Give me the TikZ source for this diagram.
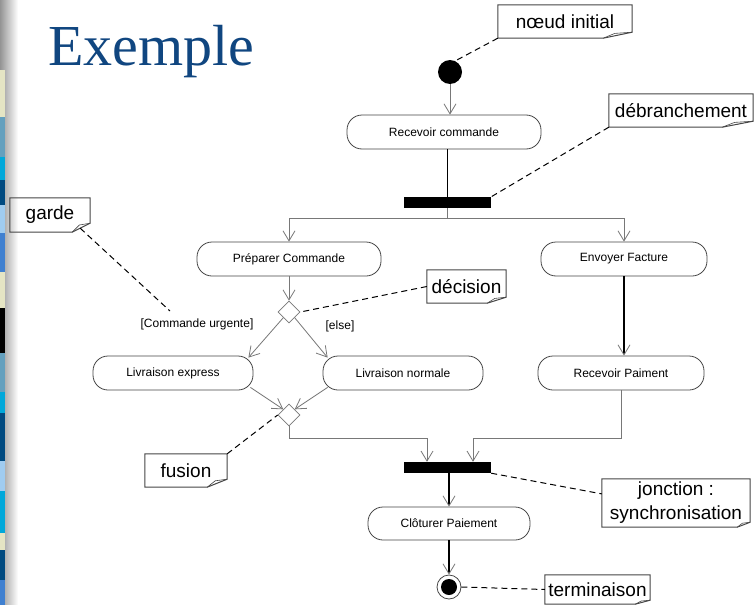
\documentclass[tikz,border=0pt]{standalone}
\usepackage{fontspec}
\setmainfont{Liberation Sans}
\newfontfamily\titlefont{Liberation Serif}
\usetikzlibrary{arrows.meta,shapes.geometric,calc}

\definecolor{titleblue}{RGB}{16,70,128}
\definecolor{linegray}{RGB}{120,120,120}
\definecolor{boxgray}{RGB}{70,70,70}
\definecolor{sbeige}{RGB}{229,229,196}
\definecolor{steel}{RGB}{100,160,190}
\definecolor{scyan}{RGB}{0,168,218}
\definecolor{sdark}{RGB}{0,74,128}
\definecolor{slight}{RGB}{160,204,240}
\definecolor{smid}{RGB}{64,128,208}

% UML note: name, cx, cy, width, height, fold width, fold height, text
\newcommand\umlnote[8]{%
  \node[notetext, minimum width=#4pt, minimum height=#5pt] (#1) at (#2,#3) {#8};
  \draw[noteline] (#1.north west) -- (#1.north east) -- ([yshift=#7pt]#1.south east)
    -- ([xshift=-#6pt]#1.south east) -- (#1.south west) -- cycle;
  \draw[noteline, line width=0.6pt] ([xshift=-#6pt]#1.south east)
    -- ([xshift=-0.6*#6pt, yshift=0.8*#7pt]#1.south east) -- ([yshift=#7pt]#1.south east);
}

\tikzset{
  activity/.style={rectangle, rounded corners=15pt, draw=boxgray, line width=0.8pt,
    minimum height=34pt, inner sep=0pt, fill=white, font=\fontsize{12}{14}\selectfont},
  syncbar/.style={rectangle, fill=black, minimum height=11pt, inner sep=0pt},
  choice/.style={diamond, draw=linegray, line width=0.7pt, fill=white, aspect=1,
    minimum width=22pt, minimum height=22pt, inner sep=0pt},
  guard/.style={font=\fontsize{12}{14}\selectfont, inner sep=0pt},
  notetext/.style={rectangle, inner sep=0pt, align=center, font=\fontsize{19}{24}\selectfont},
  noteline/.style={draw=boxgray, line width=1pt, line join=miter},
  notelink/.style={draw=black, line width=1pt, dash pattern=on 6pt off 4pt},
  tip/.style={-{Straight Barb[length=10pt,width=12pt,line width=0.8pt,color=linegray]}},
  flow/.style={draw=linegray, line width=0.8pt, tip},
  thickflow/.style={draw=black, line width=2.2pt, tip},
  plainflow/.style={draw=black, line width=0.8pt},
}

\begin{document}
\begin{tikzpicture}[x=1pt, y=-1pt]
\useasboundingbox (0,0) rectangle (755,605);
\fill[white] (0,0) rectangle (755,605);

% slide edge: shadow and coloured stripe
\shade[left color=black!42, right color=white] (0,0) rectangle (18,605);
\foreach \ya/\yb/\c in {70/117/sbeige, 117/157/steel, 157/180/scyan, 180/205/sdark,
    205/233/slight, 233/272/smid, 272/308/sbeige, 308/353/black, 353/392/steel,
    392/413/scyan, 413/461/sdark, 461/491/slight, 491/533/scyan, 533/550/sbeige,
    550/580/sdark, 580/605/smid}
  \fill[\c] (0,\ya) rectangle (5,\yb);

% title
\node[anchor=base west, inner sep=0pt, text=titleblue,
  font=\titlefont\fontsize{58}{60}\selectfont] (title) at (48,65) {Exemple};

% activity nodes
\node[circle, fill=black, minimum size=24pt, inner sep=0pt] (init) at (450,72) {};
\node[activity, minimum width=194pt] (rc) at (444,132) {Recevoir commande};
\node[syncbar, minimum width=87pt] (fork) at (447.5,202.5) {};
\node[activity, minimum width=184pt] (pc) at (289,259) {Préparer Commande};
\node[activity, minimum width=166pt] (ef) at (624,259) {Envoyer Facture};
\node[choice] (dec) at (289,312) {};
\node[activity, minimum width=160pt] (le) at (173,373) {Livraison express};
\node[activity, minimum width=160pt] (ln) at (403,373) {Livraison normale};
\node[activity, minimum width=166pt] (rp) at (621,373) {Recevoir Paiment};
\node[choice] (merge) at (289,415) {};
\node[syncbar, minimum width=87pt] (join) at (447.5,467.5) {};
\node[activity, minimum width=162pt, minimum height=33pt] (cp) at (449,523.5) {Clôturer Paiement};
\node[circle, draw=boxgray, line width=0.8pt, fill=white, minimum size=24pt, inner sep=0pt] (final) at (449,587) {};
\node[circle, fill=black, minimum size=16pt, inner sep=0pt] (finalc) at (final) {};

% guards
\node[guard] (g1) at (197,324) {[Commande urgente]};
\node[guard] (g2) at (340,326) {[else]};
\coordinate (gardeEnd) at (170,311);

% control flows
\coordinate (jl) at ($(join.north)+(-20.5,0)$);
\coordinate (jr) at ($(join.north)+(25.5,0)$);
\draw[flow] (init) -- (init |- rc.north);
\draw[plainflow] (rc.south -| fork.north) -- (fork.north);
\draw[flow] (fork.south) -- ++(0,10) -| (pc.north);
\draw[flow] (fork.south) -- ++(0,10) -| (ef.north);
\draw[flow] (pc.south) -- (dec.north);
\draw[flow] (dec.south west) -- ($(le.north east)+(-5,2)$);
\draw[flow] (dec.south east) -- ($(ln.north west)+(5,2)$);
\draw[flow] ($(le.south east)+(-3,-3)$) -- (merge.north west);
\draw[flow] ($(ln.south west)+(5,-3)$) -- (merge.north east);
\draw[flow] (merge.south) -- ++(0,12) -| (jl);
\draw[thickflow] (ef.south) -- (ef.south |- rp.north);
\draw[flow] (rp.south) -- ++(0,48) -| (jr);
\draw[thickflow] (join.south -| cp.north) -- (cp.north);
\draw[thickflow] (cp.south) -- (final.north);

% notes
\umlnote{ni}{565}{21.5}{134}{33}{29}{6}{nœud initial}
\umlnote{deb}{681}{110.5}{144}{33}{31}{6}{débranchement}
\umlnote{garde}{50}{215}{80}{34}{18}{9}{garde}
\umlnote{decn}{466.5}{286.5}{79}{33}{19}{6}{décision}
\umlnote{fus}{186}{470.5}{82}{33}{20}{8}{fusion}
\umlnote{jon}{676}{503}{148}{48}{13}{5}{jonction :\\synchronisation}
\umlnote{term}{597.5}{589.5}{105}{29}{15}{4}{terminaison}

% note anchors
\draw[notelink] (ni.south west) -- (init.65);
\draw[notelink] (deb.south west) -- (fork.north east);
\draw[notelink] ($(garde.south east)+(-10,-4)$) -- (gardeEnd);
\draw[notelink] (decn.west) -- (dec.east);
\draw[notelink] (fus.north east) -- (merge.west);
\draw[notelink] (join.south east) -- (jon.173);
\draw[notelink] (final.east) -- (term.west);
\end{tikzpicture}
\end{document}
